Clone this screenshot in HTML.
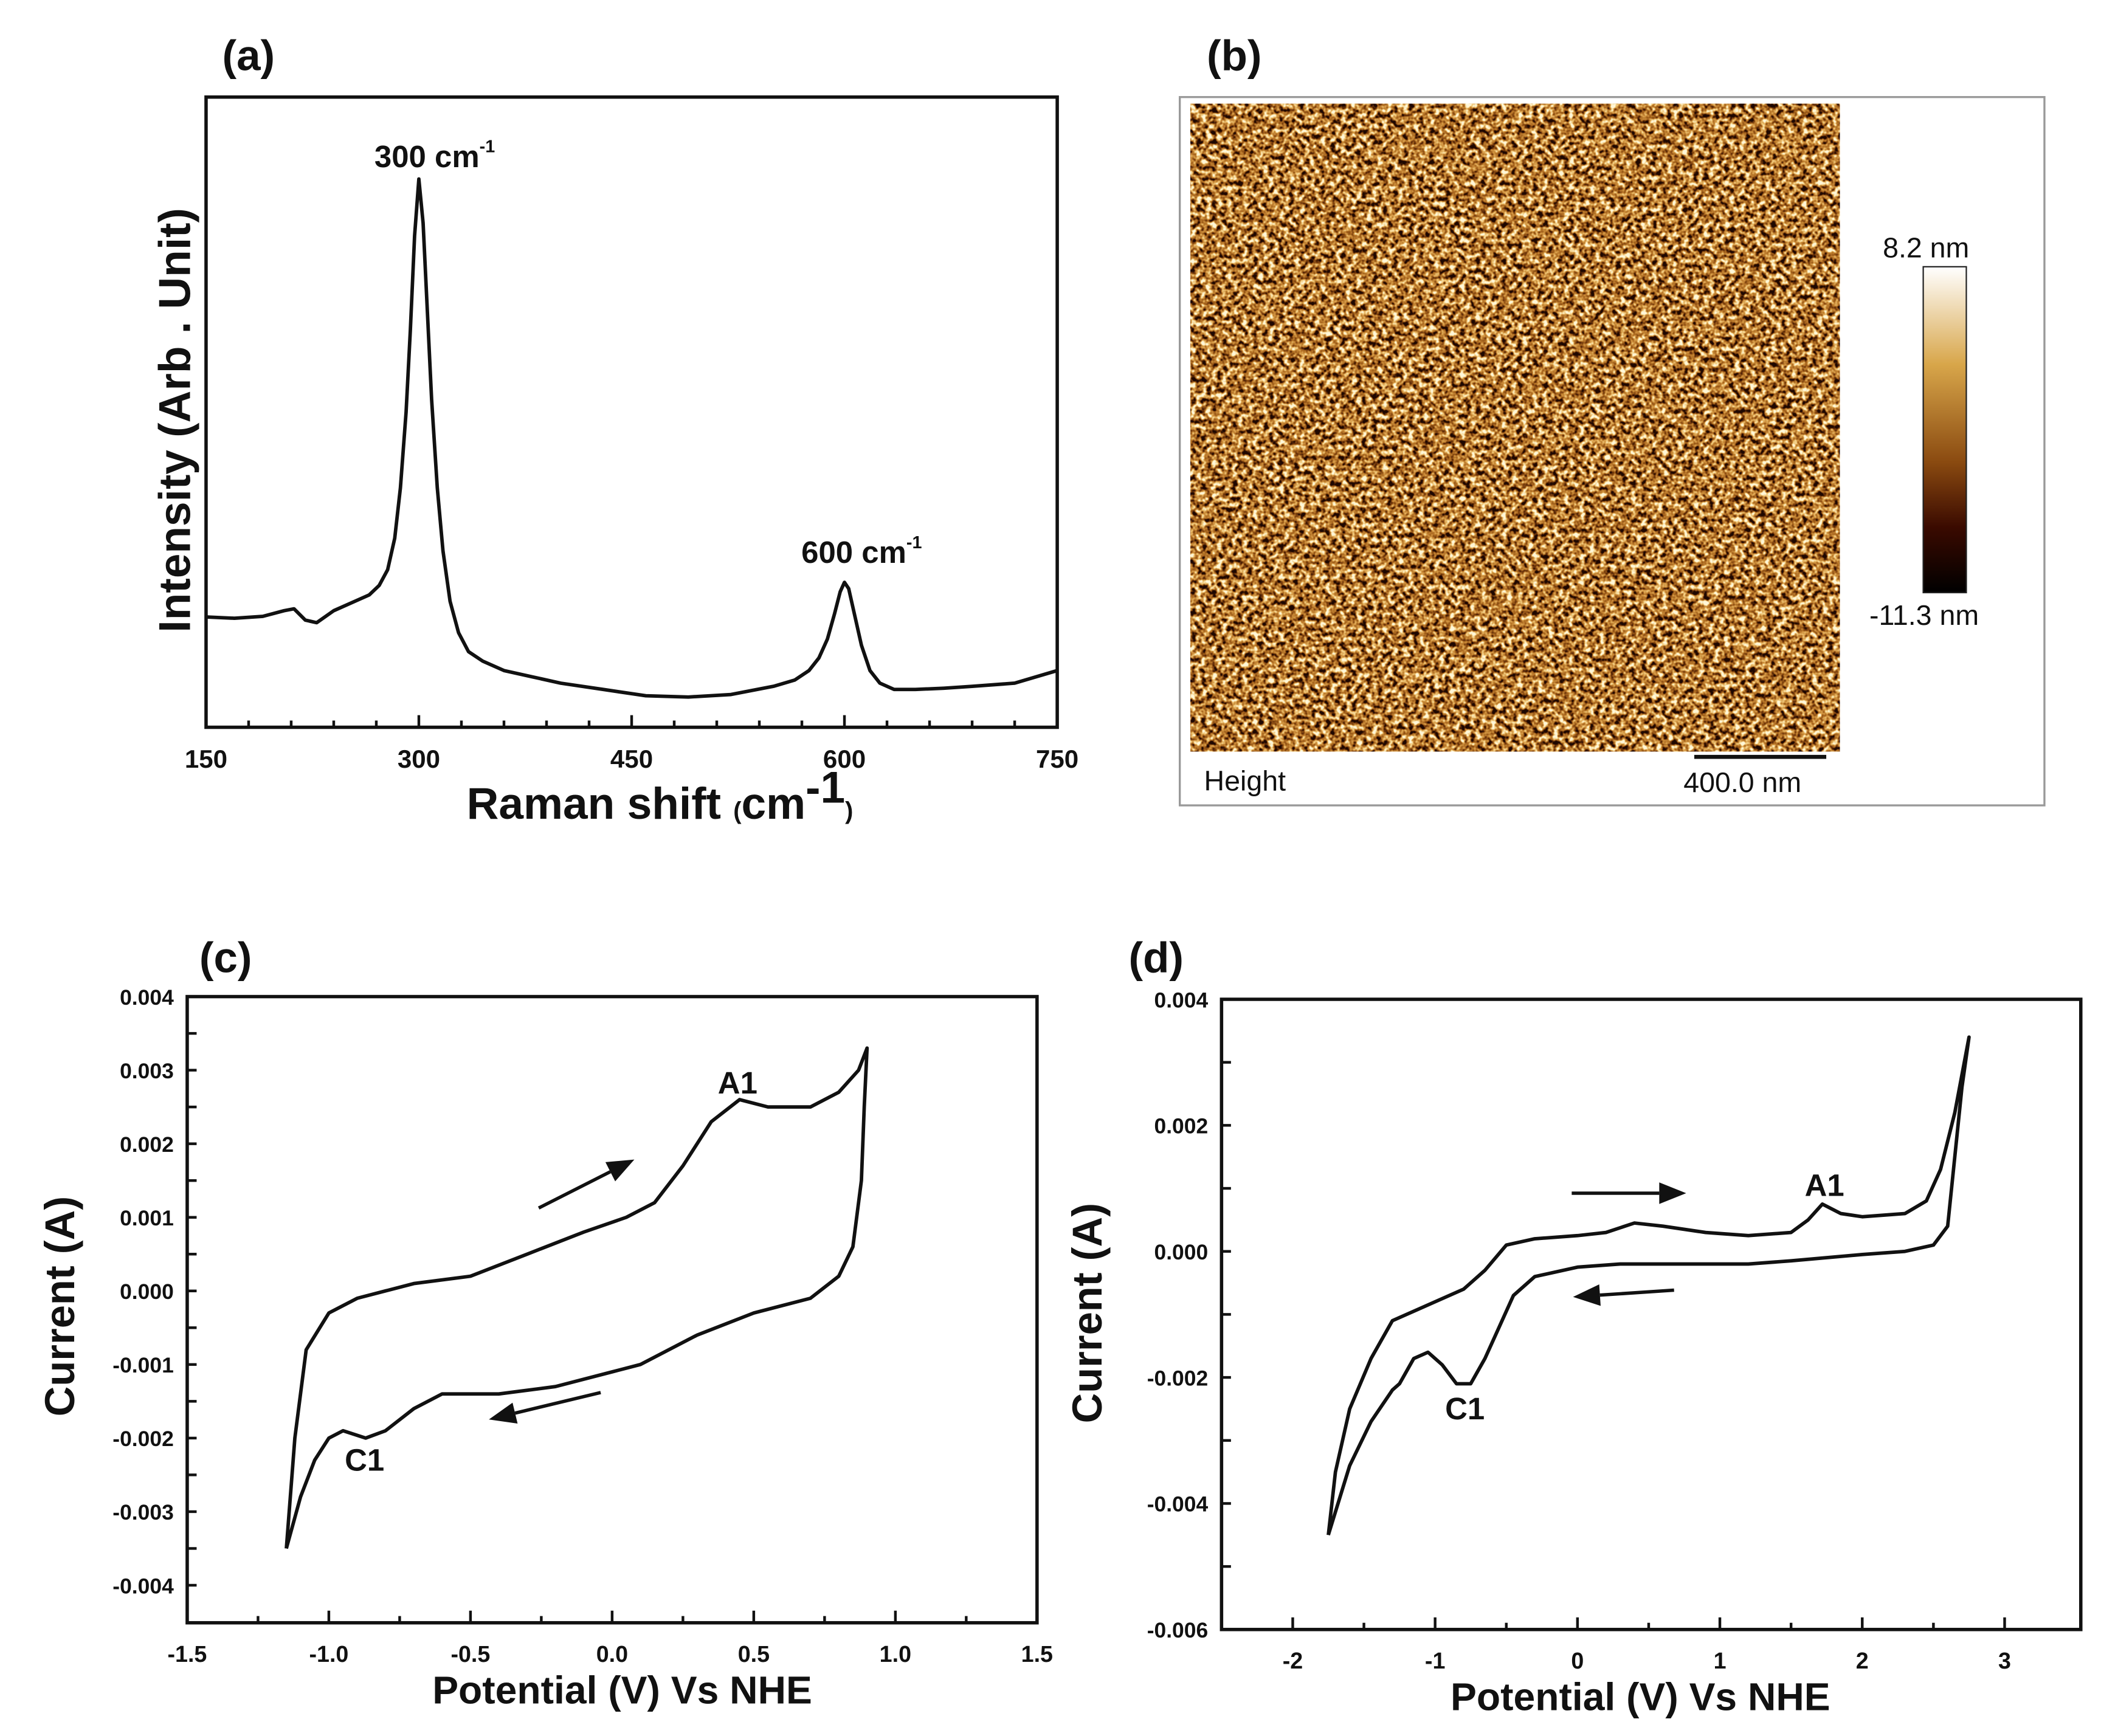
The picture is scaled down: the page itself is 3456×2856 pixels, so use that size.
<!DOCTYPE html>
<html><head><meta charset="utf-8"><style>html,body{margin:0;padding:0;background:#fff}svg{display:block}text{font-family:"Liberation Sans",sans-serif;fill:#111}</style></head>
<body>
<svg id="fig" width="3456" height="2856" viewBox="0 0 1560 1289" xmlns="http://www.w3.org/2000/svg">
<defs>
<filter id="afm" x="0" y="0" width="100%" height="100%" color-interpolation-filters="sRGB">
<feTurbulence type="fractalNoise" baseFrequency="0.26" numOctaves="2" seed="7"/>
<feColorMatrix type="matrix" values="2.4 0 0 0 -0.72  2.4 0 0 0 -0.72  2.4 0 0 0 -0.72  0 0 0 0 1"/>
<feComponentTransfer>
<feFuncR type="table" tableValues="0.12 0.42 0.66 0.82 0.95 1"/>
<feFuncG type="table" tableValues="0.03 0.2 0.4 0.58 0.8 0.97"/>
<feFuncB type="table" tableValues="0 0.04 0.12 0.25 0.5 0.85"/>
</feComponentTransfer>
</filter>
<linearGradient id="cbar" x1="0" y1="0" x2="0" y2="1">
<stop offset="0" stop-color="#ffffff"/><stop offset="0.3" stop-color="#d8a64a"/><stop offset="0.6" stop-color="#8a4a10"/><stop offset="0.8" stop-color="#3a0a00"/><stop offset="1" stop-color="#000"/>
</linearGradient>
</defs>
<g>
<text x="896" y="52" font-size="32" font-weight="bold">(b)</text>
<rect x="876" y="72" width="642" height="526" fill="#fff" stroke="#999" stroke-width="1.5"/>
<rect x="884" y="77" width="482" height="481" fill="#9a6324" filter="url(#afm)"/>
<rect x="1428" y="198" width="32" height="242" fill="url(#cbar)" stroke="#222" stroke-width="1"/>
<text x="1398" y="191" font-size="21">8.2 nm</text>
<text x="1388" y="464" font-size="21">-11.3 nm</text>
<text x="894" y="587" font-size="21">Height</text>
<line x1="1258" y1="562" x2="1356" y2="562" stroke="#111" stroke-width="3"/>
<text x="1250" y="588" font-size="21">400.0 nm</text>
</g>
<g id="pa"></g><g id="pc"></g><g id="pd"></g>
</svg>
<script>
// Panel (a) Raman data
const ramanShift = [150,170,190,205,212,220,228,240,255,265,272,278,283,287,291,294,297,300,303,306,309,313,317,322,328,335,345,360,380,400,430,460,490,520,550,565,575,582,588,593,597,600,603,607,612,618,625,635,650,670,690,720,750];
const ramanIntensity = [17.5,17.3,17.6,18.5,18.8,17,16.6,18.5,20,21,22.5,25,30,38,50,63,78,87,80,66,52,38,28,20,15,12,10.5,9,8,7,6,5,4.8,5.2,6.5,7.5,9,11,14,18,21.5,23,22,18,13,9,7,6,6,6.2,6.5,7,9];
const ramanXTicks = [150,300,450,600,750];
// Panel (c) CV
const cvcV = [-1.15,-1.12,-1.08,-1.0,-0.9,-0.7,-0.5,-0.3,-0.1,0.05,0.15,0.25,0.35,0.45,0.55,0.7,0.8,0.87,0.9,0.89,0.88,0.85,0.8,0.7,0.5,0.3,0.1,0,-0.2,-0.4,-0.6,-0.7,-0.8,-0.87,-0.95,-1.0,-1.05,-1.1,-1.15];
const cvcI = [-0.0035,-0.002,-0.0008,-0.0003,-0.0001,0.0001,0.0002,0.0005,0.0008,0.001,0.0012,0.0017,0.0023,0.0026,0.0025,0.0025,0.0027,0.003,0.0033,0.0025,0.0015,0.0006,0.0002,-0.0001,-0.0003,-0.0006,-0.001,-0.0011,-0.0013,-0.0014,-0.0014,-0.0016,-0.0019,-0.002,-0.0019,-0.002,-0.0023,-0.0028,-0.0035];
const cvcXTicks = [-1.5,-1.0,-0.5,0.0,0.5,1.0,1.5];
const cvcYTicks = [0.004,0.003,0.002,0.001,0.000,-0.001,-0.002,-0.003,-0.004];
// Panel (d) CV
const cvdV = [-1.75,-1.7,-1.6,-1.45,-1.3,-1.2,-1.0,-0.8,-0.65,-0.5,-0.3,0,0.2,0.4,0.6,0.9,1.2,1.5,1.62,1.72,1.85,2.0,2.3,2.45,2.55,2.65,2.75,2.7,2.65,2.6,2.5,2.3,2.0,1.5,1.2,0.8,0.3,0,-0.3,-0.45,-0.55,-0.65,-0.75,-0.85,-0.95,-1.05,-1.15,-1.25,-1.3,-1.45,-1.6,-1.75];
const cvdI = [-0.0045,-0.0035,-0.0025,-0.0017,-0.0011,-0.001,-0.0008,-0.0006,-0.0003,0.0001,0.0002,0.00025,0.0003,0.00045,0.0004,0.0003,0.00025,0.0003,0.0005,0.00075,0.0006,0.00055,0.0006,0.0008,0.0013,0.0022,0.0034,0.0026,0.0015,0.0004,0.0001,0,-0.00005,-0.00015,-0.0002,-0.0002,-0.0002,-0.00025,-0.0004,-0.0007,-0.0012,-0.0017,-0.0021,-0.0021,-0.0018,-0.0016,-0.0017,-0.0021,-0.0022,-0.0027,-0.0034,-0.0045];
const cvdXTicks = [-2,-1,0,1,2,3];
const cvdYTicks = [0.004,0.002,0.000,-0.002,-0.004,-0.006];

const NS="http://www.w3.org/2000/svg";
function mk(parent,tag,attrs,txt){const e=document.createElementNS(NS,tag);for(const k in attrs)e.setAttribute(k,attrs[k]);if(txt!==undefined)e.textContent=txt;parent.appendChild(e);return e;}
function lin(d0,d1,r0,r1){return v=>r0+(v-d0)/(d1-d0)*(r1-r0);}
function pathD(xs,ys,sx,sy){return xs.map((v,i)=>(i?'L':'M')+sx(v).toFixed(2)+' '+sy(ys[i]).toFixed(2)).join(' ');}

function frame(g,x0,y0,x1,y1){
  const r=mk(g,'rect',{x:x0,y:y0,width:x1-x0,height:y1-y0,fill:'none',stroke:'#111','stroke-width':2.5});
  
  
}
function arrow(g,x1,y1,x2,y2,name){
  const a=Math.atan2(y2-y1,x2-x1),L=20,W=8;
  const bx=x2-L*Math.cos(a),by=y2-L*Math.sin(a);
  const l=mk(g,'line',{x1:x1,y1:y1,x2:bx,y2:by,stroke:'#111','stroke-width':2.5});
  
  
  const p=mk(g,'polygon',{points:`${x2},${y2} ${bx+W*Math.sin(a)},${by-W*Math.cos(a)} ${bx-W*Math.sin(a)},${by+W*Math.cos(a)}`,fill:'#111'});
  
  
}

(function(){
  const g=document.getElementById('pa');
  
  
  const x0=153,x1=785,y0=72,y1=540;
  const sx=lin(150,750,x0,x1), sy=lin(0,100,y1,y0);
  mk(g,'text',{x:165,y:52,'font-size':32,'font-weight':'bold'},'(a)');
  frame(g,x0,y0,x1,y1);
  for(let v=150;v<=750;v+=30){
    const major=ramanXTicks.includes(v);
    const t=mk(g,'line',{x1:sx(v),x2:sx(v),y1:y1,y2:y1-(major?9:5),stroke:'#111','stroke-width':2});
    
    
  }
  ramanXTicks.forEach(v=>{
    const t=mk(g,'text',{x:sx(v),y:570,'font-size':19,'font-weight':'bold','text-anchor':'middle'},String(v));
    
    
  });
  const p=mk(g,'path',{d:pathD(ramanShift,ramanIntensity,sx,sy),fill:'none',stroke:'#111','stroke-width':2.6,'stroke-linejoin':'round'});
  
  
  const t1=mk(g,'text',{x:278,y:124,'font-size':23,'font-weight':'bold'});
  t1.innerHTML='300 cm<tspan dy="-11" font-size="13">-1</tspan>';
  
  
  const t2=mk(g,'text',{x:595,y:418,'font-size':23,'font-weight':'bold'});
  t2.innerHTML='600 cm<tspan dy="-11" font-size="13">-1</tspan>';
  
  
  const xt=mk(g,'text',{x:490,y:608,'font-size':33,'font-weight':'bold','text-anchor':'middle'});
  xt.innerHTML='Raman shift <tspan font-size="18">(</tspan>cm<tspan dy="-12">-1</tspan><tspan dy="12" font-size="18">)</tspan>';
  
  
  const yt=mk(g,'text',{x:0,y:0,'font-size':33,'font-weight':'bold','text-anchor':'middle',transform:'translate(141,312) rotate(-90)'},'Intensity (Arb . Unit)');
  
  
})();

function cvPanel(id,name,box,xd,yd,xTicks,yTicks,xs,ys,yFmt,xFmt,extra){
  const g=document.getElementById(id);
  
  
  const [x0,y0,x1,y1]=box;
  const sx=lin(xd[0],xd[1],x0,x1), sy=lin(yd[0],yd[1],y1,y0);
  frame(g,x0,y0,x1,y1);
  const xstep=(xTicks[1]-xTicks[0])/2;
  for(let v=xTicks[0];v<=xTicks[xTicks.length-1]+1e-9;v+=xstep){
    const major=Math.abs(Math.round((v-xTicks[0])/xstep))%2===0;
    const t=mk(g,'line',{x1:sx(v),x2:sx(v),y1:y1,y2:y1-(major?9:5),stroke:'#111','stroke-width':2});
    
    
  }
  xTicks.forEach(v=>{
    const t=mk(g,'text',{x:sx(v),y:y1+29,'font-size':17,'font-weight':'bold','text-anchor':'middle'},xFmt(v));
    
    
  });
  const ystep=(yTicks[0]-yTicks[1])/2;
  for(let v=yTicks[yTicks.length-1];v<=yTicks[0]+1e-12;v+=ystep){
    const t=mk(g,'line',{x1:x0,x2:x0+7,y1:sy(v),y2:sy(v),stroke:'#111','stroke-width':2});
    
    
  }
  yTicks.forEach(v=>{
    const t=mk(g,'text',{x:x0-10,y:sy(v)+6,'font-size':16,'font-weight':'bold','text-anchor':'end'},yFmt(v));
    
    
  });
  const p=mk(g,'path',{d:pathD(xs,ys,sx,sy),fill:'none',stroke:'#111','stroke-width':2.6,'stroke-linejoin':'round'});
  
  
  extra(g);
}
cvPanel('pc','cv-panel-c',[139,740,770,1205],[-1.5,1.5],[-0.00451,0.004],cvcXTicks,cvcYTicks,cvcV,cvcI,
  v=>(Math.abs(v)<1e-12?0:v).toFixed(3),v=>v.toFixed(1),g=>{
  mk(g,'text',{x:148,y:722,'font-size':32,'font-weight':'bold'},'(c)');
  const a=mk(g,'text',{x:533,y:812,'font-size':23,'font-weight':'bold'},'A1');
  const c=mk(g,'text',{x:256,y:1092,'font-size':23,'font-weight':'bold'},'C1');
  arrow(g,400,897,471,861,'forward-arrow');
  arrow(g,446,1034,363,1054,'reverse-arrow');
  mk(g,'text',{x:462,y:1265,'font-size':29,'font-weight':'bold','text-anchor':'middle'},'Potential (V) Vs NHE');
  mk(g,'text',{x:0,y:0,'font-size':31,'font-weight':'bold','text-anchor':'middle',transform:'translate(55,970) rotate(-90)'},'Current (A)');
});
cvPanel('pd','cv-panel-d',[907,742,1545,1210],[-2.5,3.535],[-0.006,0.004],cvdXTicks,cvdYTicks,cvdV,cvdI,
  v=>(Math.abs(v)<1e-12?0:v).toFixed(3),v=>String(v),g=>{
  mk(g,'text',{x:838,y:722,'font-size':32,'font-weight':'bold'},'(d)');
  const a=mk(g,'text',{x:1340,y:888,'font-size':23,'font-weight':'bold'},'A1');
  const c=mk(g,'text',{x:1073,y:1054,'font-size':23,'font-weight':'bold'},'C1');
  arrow(g,1167,886,1252,886,'forward-arrow');
  arrow(g,1243,958,1168,963,'reverse-arrow');
  mk(g,'text',{x:1218,y:1270,'font-size':29,'font-weight':'bold','text-anchor':'middle'},'Potential (V) Vs NHE');
  mk(g,'text',{x:0,y:0,'font-size':31,'font-weight':'bold','text-anchor':'middle',transform:'translate(818,975) rotate(-90)'},'Current (A)');
});
</script>
</body></html>
